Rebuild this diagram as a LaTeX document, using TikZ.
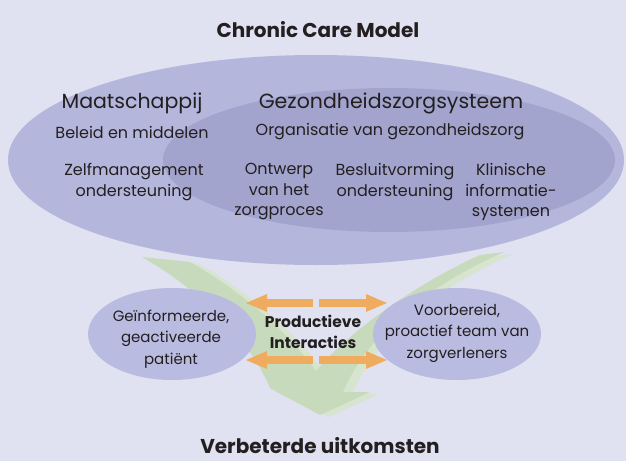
\documentclass[tikz,border=0pt]{standalone}
\usepackage{fontspec}
\setmainfont{Poppins}
\usepackage{tikz}
\usetikzlibrary{arrows.meta}

\definecolor{achter}{HTML}{E0E1F1}
\definecolor{buiten}{HTML}{B4B6DB}
\definecolor{binnen}{HTML}{A2A4CE}
\definecolor{klein}{HTML}{B9BCE0}
\definecolor{groen}{HTML}{C8DABC}
\definecolor{groenlicht}{HTML}{D7E5CF}
\definecolor{oranje}{HTML}{EFAB5E}
\definecolor{tekst}{HTML}{231F20}

\tikzset{
    kop/.style={font=\fontsize{20.5}{22}\selectfont, text=tekst},
    sub/.style={font=\fontsize{16}{20.5}\selectfont, text=tekst, align=center},
    onder/.style={font=\fontsize{15}{21.5}\selectfont, text=tekst, align=center},
    vet/.style={font=\fontsize{20}{22}\selectfont\bfseries, text=tekst},
    pijl/.style={oranje, line width=8pt, -{Triangle[length=22pt, width=16pt]}}
}

\begin{document}
\begin{tikzpicture}[x=1pt, y=-1pt]
        \fill[achter] (0,0) rectangle (626,461);
        \useasboundingbox (0,0) rectangle (626,461);

        % ellipses of the model
        \fill[buiten] (316,160) ellipse (308 and 105);
        \fill[binnen] (389,160) ellipse (226 and 72);

        % green arrow, light edge first
        \fill[groenlicht, shift={(9,2)}] (142,257) .. controls (200,290) and (250,340) .. (270,388)
            -- (277,392) -- (320,415) -- (370,392) -- (343,392)
            .. controls (370,330) and (430,285) .. (504,252) -- (480,255)
            .. controls (420,282) and (350,330) .. (316,371)
            .. controls (280,322) and (230,285) .. (190,262) -- cycle;
        \fill[groen] (142,257) .. controls (200,290) and (250,340) .. (270,388)
            -- (277,392) -- (320,415) -- (370,392) -- (343,392)
            .. controls (370,330) and (430,285) .. (504,252) -- (480,255)
            .. controls (420,282) and (350,330) .. (316,371)
            .. controls (280,322) and (230,285) .. (190,262) -- cycle;

        \fill[klein] (172,334) ellipse (84 and 46);
        \fill[klein] (457,334) ellipse (84 and 46);

        \node[vet] (CCM) at (318,30) {Chronic Care Model};
        \node[kop] (Maat) at (132,103) {Maatschappij};
        \node[kop] (Gez) at (391,103) {Gezondheidszorgsysteem};
        \node[sub] (Beleid) at (132,132) {Beleid en middelen};
        \node[sub] (Org) at (390,132) {Organisatie van gezondheidszorg};
        \node[sub, anchor=north] (Zelf) at (134,160) {Zelfmanagement\\ondersteuning};
        \node[sub, anchor=north] (Ontw) at (279,160) {Ontwerp\\van het\\zorgproces};
        \node[sub, anchor=north] (Besl) at (395,160) {Besluitvorming\\ondersteuning};
        \node[sub, anchor=north] (Klin) at (511,160) {Klinische\\informatie-\\systemen};

        \node[onder] (Pat) at (171,339) {Geïnformeerde,\\geactiveerde\\patiënt};
        \node[onder] (Team) at (457,333) {Voorbereid,\\proactief team van\\zorgverleners};
        \node[font=\fontsize{15.5}{21}\selectfont\bfseries, text=tekst, align=center] (Prod) at (313,332) {Productieve\\Interacties};
        \node[vet] (Uitk) at (320,446) {Verbeterde uitkomsten};

        % orange arrows
        \coordinate (LB) at (313,303);
        \coordinate (LT) at (245,303);
        \coordinate (RB) at (319,303);
        \coordinate (RT) at (388,303);
        \coordinate (LB2) at (313,360);
        \coordinate (LT2) at (245,360);
        \coordinate (RB2) at (319,360);
        \coordinate (RT2) at (388,360);
        \draw[pijl] (LB) -- (LT);
        \draw[pijl] (RB) -- (RT);
        \draw[pijl] (LB2) -- (LT2);
        \draw[pijl] (RB2) -- (RT2);

    \end{tikzpicture}
\end{document}
